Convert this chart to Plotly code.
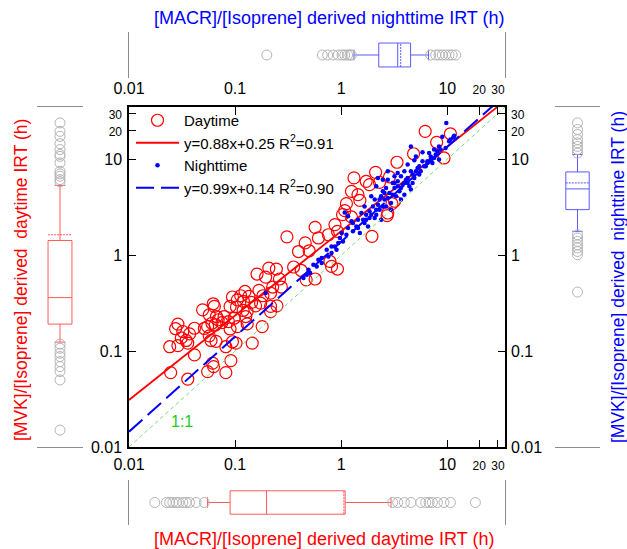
import math
import plotly.graph_objects as go

# ---------------- data ----------------
day_x = [0.568, 0.308, 0.458, 0.396, 0.499, 0.356, 0.420, 0.468, 0.208, 0.245,
         0.194, 0.161, 0.262, 0.273, 0.226, 0.168, 0.216, 0.183, 0.124, 0.113,
         0.135, 0.0944, 0.105, 0.120, 0.143, 0.156, 0.174, 0.0897, 0.103, 0.119,
         0.130, 0.216, 0.248, 0.0494, 0.0622, 0.0637, 0.0788, 0.0668, 0.0752, 0.0571,
         0.126, 0.098, 0.0865, 0.130, 0.105, 0.0897, 0.0551, 0.0605, 0.065, 0.0693,
         0.0513, 0.0289, 0.0275, 0.0321, 0.0372, 0.0414, 0.0311, 0.0346, 0.0242, 0.0289,
         0.0358, 0.180, 0.216, 0.0593, 0.0661, 0.0571, 0.0818, 0.0944, 0.102, 0.145,
         0.0414, 0.0614, 0.0627, 0.0551, 0.0912, 0.0818, 0.0247, 0.0358, 6.19, 10.7,
         7.94, 9.31, 4.81, 3.36, 2.11, 1.32, 2.30, 1.72, 1.85, 2.85,
         1.25, 1.44, 1.50, 3.18, 1.12, 1.08, 1.03, 1.25, 2.75, 3.01,
         2.71, 1.95, 0.873, 0.922, 0.757, 0.610, 0.783, 0.922, 0.811, 0.568]
day_y = [1.95, 1.55, 1.34, 1.09, 1.11, 0.752, 0.692, 0.553, 0.733, 0.716,
         0.590, 0.635, 0.564, 0.465, 0.465, 0.429, 0.402, 0.377, 0.418, 0.377,
         0.371, 0.366, 0.342, 0.329, 0.321, 0.296, 0.316, 0.292, 0.288, 0.265,
         0.258, 0.292, 0.296, 0.269, 0.311, 0.292, 0.229, 0.229, 0.198, 0.239,
         0.229, 0.220, 0.203, 0.192, 0.180, 0.170, 0.180, 0.195, 0.187, 0.212,
         0.172, 0.191, 0.171, 0.160, 0.151, 0.173, 0.137, 0.129, 0.111, 0.114,
         0.121, 0.180, 0.258, 0.129, 0.126, 0.144, 0.111, 0.125, 0.121, 0.121,
         0.0912, 0.0748, 0.0689, 0.0611, 0.0796, 0.0597, 0.0597, 0.0509, 19.5, 18.4,
         15.0, 10.3, 11.4, 9.29, 7.30, 6.38, 5.74, 5.88, 5.43, 6.53,
         4.62, 4.27, 3.72, 3.64, 3.44, 2.91, 2.64, 2.50, 2.75, 3.44,
         2.58, 1.57, 2.08, 1.77, 1.63, 1.51, 0.859, 0.716, 0.762, 0.564]

night_x = [9.79, 8.98, 11.4, 4.54, 5.84, 6.98, 6.50, 8.07, 7.51, 7.24,
           4.89, 4.23, 5.25, 4.54, 3.66, 4.08, 3.41, 3.80, 4.39, 3.18,
           3.54, 2.85, 3.94, 2.38, 2.14, 2.56, 2.95, 2.22, 1.99, 2.30,
           1.85, 1.72, 2.14, 2.07, 2.38, 1.61, 1.39, 1.16, 1.29, 1.12,
           1.04, 0.938, 1.79, 1.85, 1.44, 0.811, 0.757, 0.730, 0.655, 0.492,
           0.474, 1.08, 2.75, 4.71, 5.84, 6.74, 5.06, 3.41, 3.18, 3.06,
           2.65, 2.47, 3.29, 3.66, 2.65, 2.07, 1.92, 1.66, 1.55, 1.25,
           1.01, 0.873, 0.610, 0.547, 5.44, 6.27, 5.62, 4.89, 4.23, 4.54,
           2.95, 2.47, 7.51, 10.4, 8.36, 2.75, 2.22, 3.94, 0.194,
           1.16, 1.29, 1.44, 1.66, 1.50, 0.973, 0.811, 0.904, 0.655, 0.588,
           0.510, 0.441, 3.18, 3.41, 3.66, 3.94, 4.23, 4.71, 5.06, 5.44,
           6.05, 6.50, 6.98, 7.78, 8.36, 8.65, 9.64, 10.7, 11.6, 2.56,
           2.30, 2.47, 2.75, 3.06, 2.14, 1.92, 1.72]
night_y = [23.9, 17.1, 16.9, 13.6, 11.8, 10.7, 9.51, 12.1, 10.3, 9.15,
           9.74, 8.78, 8.11, 7.48, 6.63, 6.12, 5.88, 5.43, 5.21, 5.01,
           4.62, 4.45, 4.27, 4.10, 5.21, 3.79, 3.50, 3.36, 3.22, 2.98,
           2.86, 2.64, 2.64, 2.44, 2.34, 2.34, 1.99, 1.92, 1.77, 1.63,
           1.39, 1.34, 1.99, 2.44, 2.34, 1.05, 0.968, 1.14, 0.828, 0.705,
           0.623, 2.79, 6.12, 6.91, 9.51, 11.6, 10.7, 7.19, 6.63, 5.66,
           5.01, 4.62, 4.10, 3.79, 3.22, 3.79, 4.10, 3.22, 2.75, 2.25,
           1.70, 1.23, 0.895, 0.794, 8.43, 8.43, 7.48, 6.38, 5.66, 4.82,
           2.98, 6.12, 12.6, 15.4, 13.6, 7.48, 6.38, 7.48, 0.402,
           2.54, 2.16, 1.92, 2.16, 1.70, 1.51, 1.23, 1.14, 0.933, 0.762,
           0.650, 0.577, 5.66, 5.21, 5.01, 5.66, 6.38, 5.66, 7.48, 6.91,
           8.43, 9.15, 9.91, 11.2, 9.91, 12.6, 13.1, 16.0, 17.6, 4.45,
           3.79, 3.22, 3.94, 4.27, 2.98, 2.64, 2.34]

# log-log fits: log10(y) = slope*log10(x) + intercept
day_fit = dict(slope=0.88, intercept=0.25, r2="0.91")
night_fit = dict(slope=0.99, intercept=0.14, r2="0.90")
fit_x = [0.01, 35.0]

# box-plot summaries (lowerfence, q1, median, mean, q3, upperfence) and outliers
box_night_x = dict(lf=1.32, q1=2.26, med=3.41, mean=3.64, q3=4.51, uf=6.64)
out_night_x = [0.199, 0.664, 0.745, 0.842, 0.937, 1.02, 1.08, 1.15, 1.21, 1.25,
               6.98, 7.78, 8.36, 8.98, 9.64, 10.4, 11.1, 12.0]
box_day_x = dict(lf=0.055, q1=0.0897, med=0.198, mean=1.06, q3=1.09, uf=2.95)
out_day_x = [0.0175, 0.0225, 0.0242, 0.0259, 0.0279, 0.0295, 0.0322, 0.0346, 0.0372, 0.0429, 0.0513,
             3.06, 3.41, 3.94, 4.54, 5.62, 6.27, 6.74, 7.24, 8.07, 9.31, 10.7, 18.4]
box_day_y = dict(lf=0.124, q1=0.191, med=0.361, mean=1.63, q3=1.42, uf=5.33)
out_day_y = [0.0150, 0.050, 0.0611, 0.0689, 0.0777, 0.0877, 0.095, 0.107, 0.118,
             5.80, 6.13, 6.64, 7.03, 7.48, 9.15, 10.7, 11.2, 12.6, 14.5, 17.3, 19.5, 23.9]
box_night_y = dict(lf=1.77, q1=2.98, med=4.90, mean=5.66, q3=7.37, uf=11.2)
out_night_y = [0.412, 1.01, 1.09, 1.19, 1.28, 1.39, 1.51, 1.63,
               11.6, 12.6, 13.6, 14.8, 16.0, 18.1, 20.4, 23.9]

tick_vals = [0.01, 0.1, 1, 10, 20, 30]
tick_text = ["0.01", "0.1", "1", "10",
             "<span style='font-size:12px'>20</span>",
             "<span style='font-size:12px'>30</span>"]
minor_vals = [0.02, 0.03, 0.04, 0.05, 0.06, 0.07, 0.08, 0.09,
              0.2, 0.3, 0.4, 0.5, 0.6, 0.7, 0.8, 0.9,
              2, 3, 4, 5, 6, 7, 8, 9]

# ---------------- geometry ----------------
W, H = 627, 549
RNG = [-2, math.log10(35)]
def px(a, b):
    return [a / W, b / W]
def py(top, bottom):
    return [1 - bottom / H, 1 - top / H]

main_xd = px(129, 505)
main_yd = py(107, 447)
left_xd = px(37, 83)
right_xd = px(555, 600)
top_yd = py(32, 78)
bot_yd = py(480, 525)
MAJ, MIN = 7.5, 4.0   # tick lengths in px

RED = "#ff0000"
BLUE = "#0000ff"
RED_BOX = "#ff5a5a"
BLUE_BOX = "#5a5aff"
GRAY = "#8c8c8c"
OUT_GRAY = "#b4b4b4"
FONT = "Arial, Liberation Sans, sans-serif"

fig = go.Figure()

def fit_line(fit):
    return [10 ** (fit["slope"] * math.log10(v) + fit["intercept"]) for v in fit_x]

fig.add_trace(go.Scatter(x=day_x, y=day_y, mode="markers", name="Daytime",
                         marker=dict(symbol="circle-open", size=12, color=RED,
                                     line=dict(width=1.2, color=RED))))
fig.add_trace(go.Scatter(x=fit_x, y=fit_line(day_fit), mode="lines",
                         name=f"y={day_fit['slope']}x+{day_fit['intercept']} R<sup>2</sup>={day_fit['r2']}",
                         line=dict(color=RED, width=1.8)))
fig.add_trace(go.Scatter(x=night_x, y=night_y, mode="markers", name="Nighttime",
                         marker=dict(symbol="circle", size=4.5, color=BLUE)))
fig.add_trace(go.Scatter(x=fit_x, y=fit_line(night_fit), mode="lines",
                         name=f"y={night_fit['slope']}x+{night_fit['intercept']} R<sup>2</sup>={night_fit['r2']}",
                         line=dict(color=BLUE, width=2, dash="18px,7px")))
fig.add_trace(go.Scatter(x=fit_x, y=fit_x, mode="lines", showlegend=False,
                         line=dict(color="#7ddc7d", width=1, dash="4px,3px"),
                         xaxis="x2", yaxis="y2"))

def add_box(stats, outliers, color, orient, xa, ya):
    kw = dict(q1=[stats["q1"]], median=[stats["med"]], q3=[stats["q3"]],
              lowerfence=[stats["lf"]], upperfence=[stats["uf"]], mean=[stats["mean"]],
              boxmean=True, boxpoints=False, showlegend=False, width=1.04,
              whiskerwidth=0.45, fillcolor="rgba(0,0,0,0)",
              line=dict(color=color, width=1), xaxis=xa, yaxis=ya)
    mk = dict(symbol="circle-open", size=10, color=OUT_GRAY, line=dict(width=1, color=OUT_GRAY))
    if orient == "h":
        fig.add_trace(go.Box(orientation="h", y=[0], **kw))
        fig.add_trace(go.Scatter(x=outliers, y=[0] * len(outliers), mode="markers",
                                 showlegend=False, xaxis=xa, yaxis=ya, marker=mk))
    else:
        fig.add_trace(go.Box(orientation="v", x=[0], **kw))
        fig.add_trace(go.Scatter(y=outliers, x=[0] * len(outliers), mode="markers",
                                 showlegend=False, xaxis=xa, yaxis=ya, marker=mk))

add_box(box_day_y, out_day_y, RED_BOX, "v", "x3", "y3")
add_box(box_night_y, out_night_y, BLUE_BOX, "v", "x4", "y4")
add_box(box_night_x, out_night_x, BLUE_BOX, "h", "x5", "y5")
add_box(box_day_x, out_day_x, RED_BOX, "h", "x6", "y6")

base_log = dict(type="log", range=RNG, showgrid=False, zeroline=False, automargin=False)
lab = dict(base_log, tickmode="array", tickvals=tick_vals, ticktext=tick_text,
           ticks="inside", ticklen=MAJ, tickwidth=1.3, tickcolor="black",
           tickfont=dict(size=16, color="black", family=FONT))

layout_axes = dict(
    xaxis=dict(lab, domain=main_xd, anchor="y", side="bottom", showline=True,
               linecolor="black", linewidth=1.5, mirror=True, ticklabelstandoff=2),
    yaxis=dict(lab, domain=main_yd, anchor="x", side="left", showline=True,
               linecolor="black", linewidth=1.5, mirror=True, ticklabelstandoff=2),
    xaxis2=dict(lab, overlaying="x", anchor="y", side="top", showline=False,
                ticklabelstandoff=9),
    yaxis2=dict(lab, overlaying="y", anchor="x", side="right", showline=False,
                ticklabelstandoff=5),
    xaxis3=dict(range=[-1, 1], domain=left_xd, anchor="y3", showline=True, mirror=True,
                linecolor=GRAY, linewidth=1, ticks="", showticklabels=False,
                showgrid=False, zeroline=False, automargin=False),
    yaxis3=dict(type="log", range=RNG, domain=main_yd, anchor="x3", visible=False),
    xaxis4=dict(range=[-1, 1], domain=right_xd, anchor="y4", showline=True, mirror=True,
                linecolor=GRAY, linewidth=1, ticks="", showticklabels=False,
                showgrid=False, zeroline=False, automargin=False),
    yaxis4=dict(type="log", range=RNG, domain=main_yd, anchor="x4", visible=False),
    xaxis5=dict(type="log", range=RNG, domain=main_xd, anchor="y5", visible=False),
    yaxis5=dict(range=[-1, 1], domain=top_yd, anchor="x5", showline=True, mirror=True,
                linecolor=GRAY, linewidth=1, ticks="", showticklabels=False,
                showgrid=False, zeroline=False, automargin=False),
    xaxis6=dict(type="log", range=RNG, domain=main_xd, anchor="y6", visible=False),
    yaxis6=dict(range=[-1, 1], domain=bot_yd, anchor="x6", showline=True, mirror=True,
                linecolor=GRAY, linewidth=1, ticks="", showticklabels=False,
                showgrid=False, zeroline=False, automargin=False),
)

# thin strip sub-plots along the frame whose grid lines form the inward tick marks
def grid_axis(vals, dom):
    return dict(type="log", range=RNG, domain=dom, tickmode="array", tickvals=vals,
                showgrid=True, gridcolor="black", gridwidth=1.3, ticks="",
                showticklabels=False, showline=False, zeroline=False, automargin=False)
def blank_axis(dom):
    return dict(range=[0, 1], domain=dom, visible=False, showgrid=False, zeroline=False,
                automargin=False)

n = 7
for vals, ln in ((tick_vals, MAJ), (minor_vals, MIN)):
    for dom in ([main_yd[0], main_yd[0] + ln / H], [main_yd[1] - ln / H, main_yd[1]]):
        layout_axes[f"xaxis{n}"] = dict(grid_axis(vals, main_xd), anchor=f"y{n}")
        layout_axes[f"yaxis{n}"] = dict(blank_axis(dom), anchor=f"x{n}")
        n += 1
    for dom in ([main_xd[0], main_xd[0] + ln / W], [main_xd[1] - ln / W, main_xd[1]]):
        layout_axes[f"yaxis{n}"] = dict(grid_axis(vals, main_yd), anchor=f"x{n}")
        layout_axes[f"xaxis{n}"] = dict(blank_axis(dom), anchor=f"y{n}")
        n += 1

fig.update_layout(
    template="none",
    width=W, height=H,
    margin=dict(l=0, r=0, t=0, b=0, pad=0),
    paper_bgcolor="white", plot_bgcolor="rgba(0,0,0,0)",
    font=dict(family=FONT, color="black"),
    legend=dict(x=131 / W, y=1 - 104 / H, xanchor="left", yanchor="top",
                bgcolor="rgba(0,0,0,0)", borderwidth=0,
                font=dict(size=15, family=FONT, color="black"),
                tracegroupgap=0, itemwidth=43),
    showlegend=True,
    **layout_axes,
)

ann = [
    dict(text="[MACR]/[Isoprene] derived nighttime IRT (h)", x=152 / W, y=1 - 18 / H,
         xanchor="left", yanchor="middle", font=dict(size=18, color=BLUE)),
    dict(text="[MACR]/[Isoprene] derived daytime IRT (h)", x=152 / W, y=1 - 539 / H,
         xanchor="left", yanchor="middle", font=dict(size=18, color=RED)),
    dict(text="[MVK]/[Isoprene] derived\u00a0 daytime IRT (h)", x=21 / W, y=1 - 443 / H,
         textangle=-90, xanchor="center", yanchor="bottom", font=dict(size=17.5, color=RED)),
    dict(text="[MVK]/[Isoprene] derived\u00a0 nighttime IRT (h)", x=618 / W, y=1 - 445 / H,
         textangle=-90, xanchor="center", yanchor="bottom", font=dict(size=17.5, color=BLUE)),
    dict(text="1:1", x=182 / W, y=1 - 421 / H, xanchor="center", yanchor="middle",
         font=dict(size=16, color="#22cc22")),
]
for a in ann:
    a.update(xref="paper", yref="paper", showarrow=False)
fig.update_layout(annotations=ann)

fig.write_html("out.html", config={"responsive": False, "displayModeBar": False},
               post_script="document.body.style.margin='0';")
